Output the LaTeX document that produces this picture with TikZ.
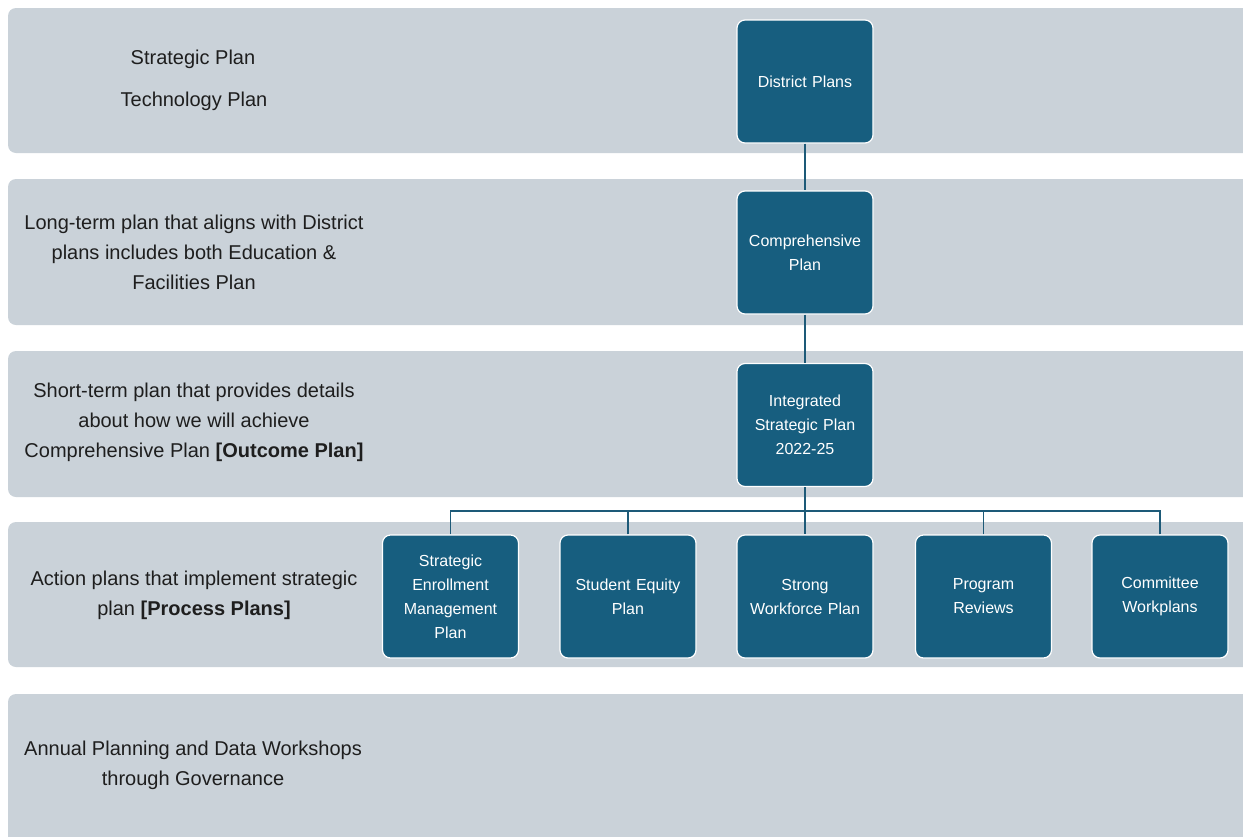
\documentclass[tikz,border=0pt]{standalone}
\usepackage{fontspec}
\setmainfont{Liberation Sans}
\definecolor{bandgray}{HTML}{CAD2D9}
\definecolor{planteal}{HTML}{175E7F}
\definecolor{linkcol}{HTML}{1D5A78}
\definecolor{textdark}{HTML}{1E1E1E}
\tikzset{
  band/.style={fill=bandgray, rounded corners=8pt},
  plan/.style={fill=planteal, draw=white, line width=1.2pt, rounded corners=8pt,
    minimum width=136pt, minimum height=123pt, inner sep=0pt, text width=130pt,
    text=white, align=center, font=\fontsize{16}{24}\selectfont},
  lbl/.style={align=center, text=textdark, inner sep=0pt, font=\fontsize{20}{30}\selectfont},
  link/.style={draw=linkcol, line width=1.4pt}
}
\begin{document}
\begin{tikzpicture}[x=1pt,y=-1pt]
\useasboundingbox[fill=white] (0,0) rectangle (1243,836);
% bands
\fill[band] (8,8) rectangle (1262,153);
\fill[band] (8,179) rectangle (1262,325);
\fill[band] (8,351) rectangle (1262,497);
\fill[band] (8,522) rectangle (1262,667);
\fill[band] (8,694) rectangle (1262,852);
% left labels
\node[lbl] (l1a) at (193,59) {Strategic Plan};
\node[lbl] (l1b) at (194,101) {Technology Plan};
\node[lbl] (l2) at (194,252) {Long-term plan that aligns with District\\plans includes both Education \&\\Facilities Plan};
\node[lbl] (l3) at (194,422) {Short-term plan that provides details\\about how we will achieve\\Comprehensive Plan \textbf{[Outcome Plan]}};
\node[lbl] (l4) at (194,595) {Action plans that implement strategic\\plan \textbf{[Process Plans]}};
\node[lbl] (l5) at (193,765) {Annual Planning and Data Workshops\\through Governance};
% plan boxes
\node[plan] (district) at (805,81.5) {District Plans};
\node[plan] (comp) at (805,252.5) {Comprehensive\\Plan};
\node[plan] (isp) at (805,425) {Integrated\\Strategic Plan\\2022-25};
\node[plan] (sem) at (450.5,596.5) {Strategic\\Enrollment\\Management\\Plan};
\node[plan] (sep) at (628,596.5) {Student Equity\\Plan};
\node[plan] (swp) at (805,596.5) {Strong\\Workforce Plan};
\node[plan] (pr) at (983.5,596.5) {Program\\Reviews};
\node[plan] (cw) at (1160,596.5) {Committee\\Workplans};
% connectors
\coordinate (bus) at (805,511);
\draw[link] (district.south) -- (comp.north);
\draw[link] (comp.south) -- (isp.north);
\draw[link] (isp.south) -- (swp.north);
\draw[link] (sem.north) |- (bus);
\draw[link] (sep.north) |- (bus);
\draw[link] (pr.north) |- (bus);
\draw[link] (cw.north) |- (bus);
\end{tikzpicture}
\end{document}
